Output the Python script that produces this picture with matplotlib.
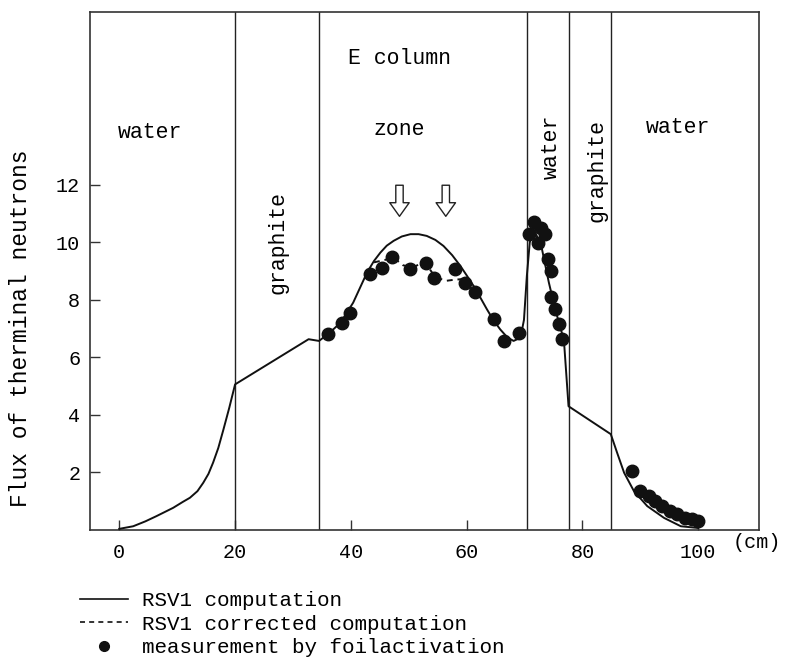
import matplotlib
matplotlib.use("Agg")
import matplotlib.pyplot as plt
from matplotlib.lines import Line2D

plt.rcParams['font.family'] = ['Liberation Mono', 'DejaVu Sans Mono']

# RSV1 computation (solid line)
calc_x = [0, 2.4, 4.5, 6.4, 9.3, 11.0, 12.2, 13.5, 14.5, 15.4, 16.2, 17.1, 18.0, 19.0, 20.0,
          32.7, 34.5, 36.3, 38.2, 40.4, 42.8, 44.0, 45.1, 46.2, 47.4, 48.8, 50.3, 51.7,
          53.1, 54.6, 56.0, 57.5, 58.9, 60.0, 61.2, 62.3, 63.5, 64.6, 65.8, 67.0, 68.1,
          69.3, 69.9, 70.4, 70.9, 71.6, 72.9, 74.2, 75.3, 76.8, 77.6, 84.9, 86.0, 87.2,
          88.9, 91.2, 94.1, 97.0, 100.0]
calc_y = [0.04, 0.13, 0.3, 0.48, 0.77, 0.98, 1.12, 1.35, 1.64, 1.95, 2.34, 2.85, 3.5, 4.25, 5.06,
          6.63, 6.57, 6.85, 7.2, 7.9, 8.95, 9.35, 9.64, 9.88, 10.05, 10.2, 10.28, 10.28,
          10.22, 10.08, 9.87, 9.55, 9.18, 8.85, 8.48, 8.1, 7.67, 7.3, 6.97, 6.7, 6.57,
          6.68, 7.3, 8.83, 9.99, 10.45, 9.87, 8.6, 7.67, 6.6, 4.3, 3.33, 2.68, 1.99,
          1.35, 0.83, 0.42, 0.13, 0.07]

# RSV1 corrected computation (dashed line)
corr_x = [44.0, 46.2, 47.3, 49.0, 50.8, 52.3, 53.5, 54.6, 56.5, 58.0, 59.5, 60.2]
corr_y = [9.30, 9.40, 9.48, 9.20, 9.12, 9.30, 9.10, 8.78, 8.66, 8.70, 8.72, 8.75]

# measurement by foil activation
meas_x = [36.1, 38.4, 39.9, 43.3, 45.4, 47.1, 50.3, 52.9, 54.3, 58.0, 59.8, 61.5, 64.7,
          66.4, 69.0, 70.7, 71.6, 72.8, 73.6, 72.4, 74.0, 74.5, 74.5, 75.3, 75.9, 76.5,
          88.6, 90.0, 91.5, 92.6, 93.8, 95.2, 96.4, 97.8, 99.0, 99.9]
meas_y = [6.8, 7.21, 7.53, 8.89, 9.12, 9.5, 9.08, 9.27, 8.74, 9.08, 8.6, 8.27, 7.32,
          6.57, 6.86, 10.28, 10.69, 10.51, 10.28, 9.99, 9.41, 9.0, 8.08, 7.67, 7.15, 6.63,
          2.05, 1.35, 1.18, 1.0, 0.83, 0.65, 0.54, 0.42, 0.37, 0.31]

# region boundaries (cm)
boundaries = [20.0, 34.5, 70.4, 77.7, 84.9]
arrow_x = [48.4, 56.4]

x_ticks = [0, 20, 40, 60, 80, 100]
y_ticks = [2, 4, 6, 8, 10, 12]

fig = plt.figure(figsize=(7.87, 6.58), dpi=100)
ax = fig.add_axes([90/787, 128/658, 669/787, 518/658])
ax.set_xlim(-5.06, 110.5)
ax.set_ylim(0, 18.0)

for b in boundaries:
    ax.axvline(b, color='#222222', lw=1.0)

ax.plot(calc_x, calc_y, color='#111111', lw=1.4, zorder=3)
ax.plot(corr_x, corr_y, color='#111111', lw=1.4, ls=(0, (3, 2.5)), zorder=3)
ax.plot(meas_x, meas_y, 'o', color='#111111', ms=9, zorder=4)

for a in arrow_x:
    ax.annotate('', xy=(a, 10.9), xytext=(a, 11.98),
                arrowprops=dict(arrowstyle='simple,head_length=0.7,head_width=1.0,tail_width=0.38',
                                fc='white', ec='#222222', lw=1.0, mutation_scale=14,
                                shrinkA=0, shrinkB=0))

fs = 15.5
ax.text(5.3, 13.8, 'water', ha='center', va='center', fontsize=fs)
ax.text(27.4, 10.0, 'graphite', ha='center', va='center', fontsize=fs, rotation=90)
ax.text(48.4, 16.4, 'E column', ha='center', va='center', fontsize=fs)
ax.text(48.4, 13.9, 'zone', ha='center', va='center', fontsize=fs)
ax.text(74.7, 13.3, 'water', ha='center', va='center', fontsize=fs, rotation=90)
ax.text(82.6, 12.5, 'graphite', ha='center', va='center', fontsize=fs, rotation=90)
ax.text(96.5, 14.0, 'water', ha='center', va='center', fontsize=fs)

ax.set_xticks(x_ticks)
ax.set_yticks(y_ticks)
ax.tick_params(direction='in', length=7, width=1.0, labelsize=14.5, color='#333333')
ax.tick_params(axis='x', pad=9)
ax.tick_params(axis='y', pad=7)
for s in ax.spines.values():
    s.set_linewidth(1.2)
    s.set_color('#333333')

ax.text(0.96, -0.025, '(cm)', transform=ax.transAxes, ha='left', va='center', fontsize=14.5)

ax.set_ylabel('Flux of therminal neutrons', fontsize=16.5)
ax.yaxis.set_label_coords(-0.087, 0.39)

handles = [Line2D([], [], color='#111111', lw=1.2),
           Line2D([], [], color='#111111', lw=1.2, ls=(0, (3, 2.5))),
           Line2D([], [], color='#111111', ls='none', marker='o', ms=7)]
labels = ['RSV1 computation', 'RSV1 corrected computation', 'measurement by foilactivation']
fig.legend(handles, labels, loc='upper left', bbox_to_anchor=(80/787, 1 - 591/658),
           frameon=False, fontsize=15, labelspacing=0.22, handlelength=2.3,
           handletextpad=0.7, borderpad=0, borderaxespad=0)

fig.savefig('out.png', dpi=100)
